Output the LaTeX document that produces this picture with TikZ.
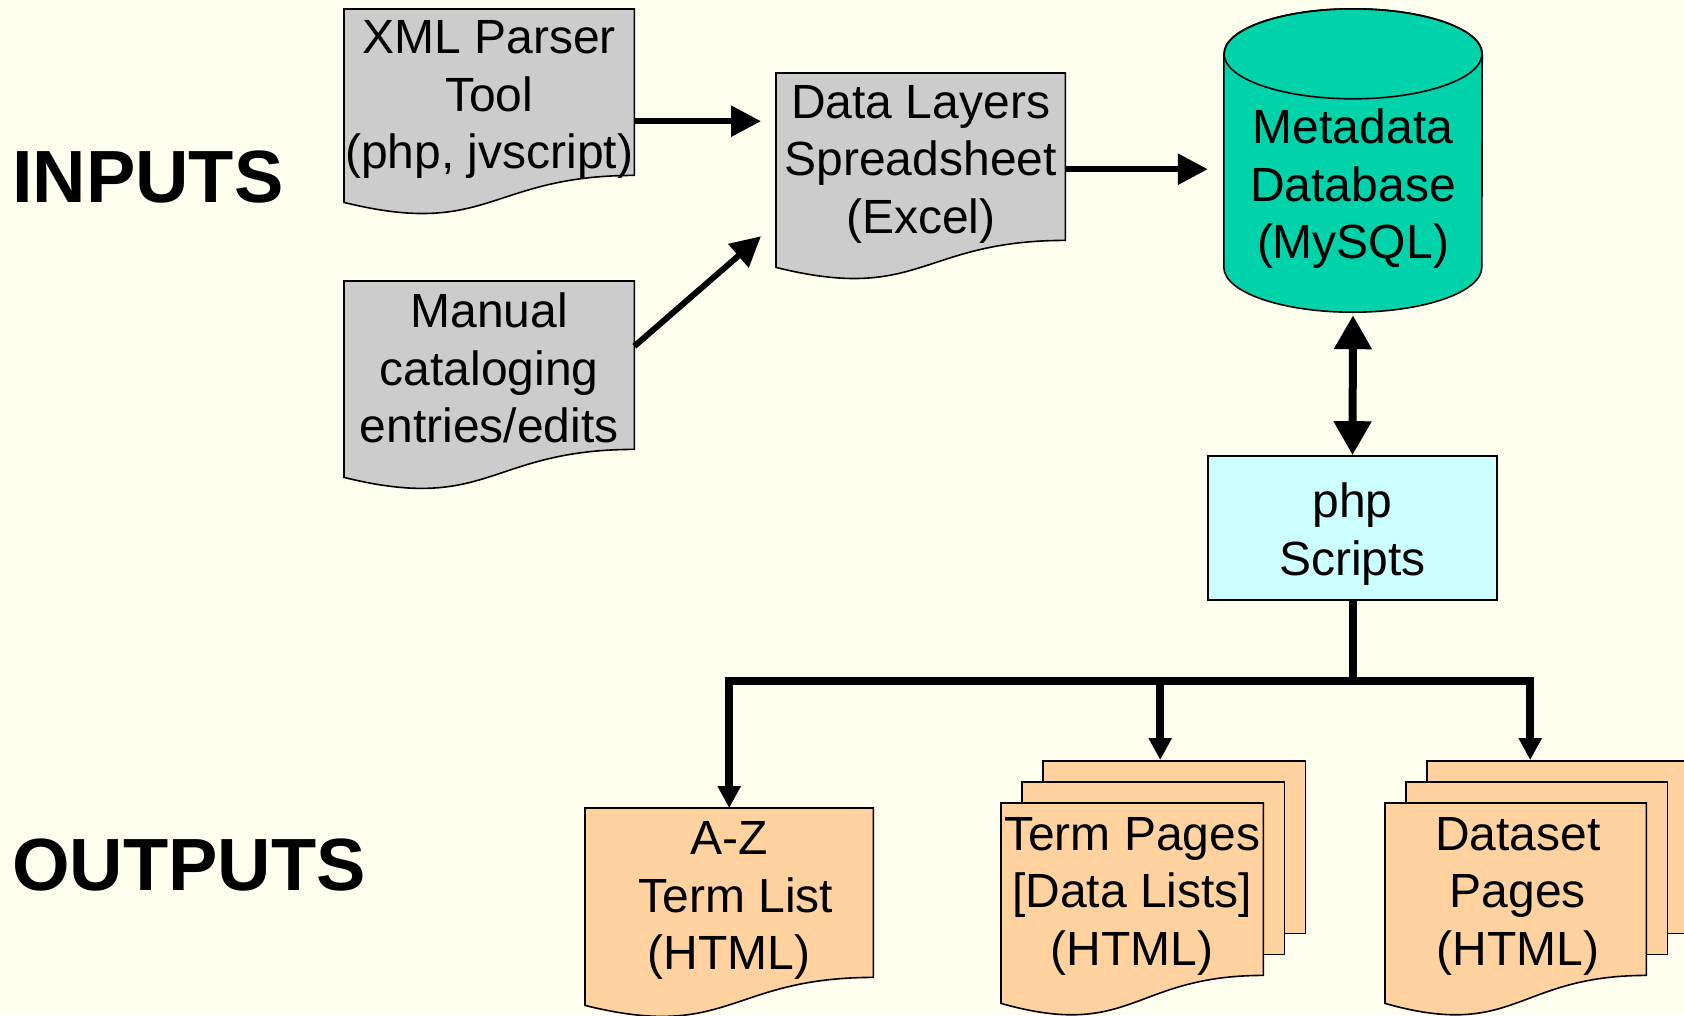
\documentclass[tikz,border=0pt]{standalone}
\usepackage{fontspec}
\setmainfont{Liberation Sans}
\usetikzlibrary{arrows.meta,backgrounds,calc}
\definecolor{bgc}{RGB}{255,255,240}
\definecolor{grayc}{RGB}{204,204,204}
\definecolor{tealc}{RGB}{0,210,170}
\definecolor{cyanc}{RGB}{204,255,255}
\definecolor{peachc}{RGB}{255,210,160}
\newcommand{\docshape}[4]{%
  \filldraw[#1] (#2.north west) -- (#2.north east) -- (#2.south east)
    .. controls (#2.south) and ([yshift=-#3pt]#2.south) .. ([yshift=-#4pt]#2.south west) -- cycle;}
\newcommand{\pagesbehind}[2]{%
  \filldraw[#1] ([xshift=42pt,yshift=42pt]#2.north west) rectangle ([xshift=42pt,yshift=42pt]#2.south east);
  \filldraw[#1] ([xshift=21pt,yshift=21pt]#2.north west) rectangle ([xshift=21pt,yshift=21pt]#2.south east);}
\begin{document}
\begin{tikzpicture}[x=1pt,y=-1pt,
  txt/.style={font=\fontsize{48}{57.5}\selectfont, align=center, inner sep=0pt},
  box/.style={inner sep=0pt, anchor=north west},
  head/.style={font=\fontsize{74}{80}\selectfont\bfseries, inner sep=0pt, anchor=west},
  outl/.style={draw=black, line width=1.6pt},
  grayshape/.style={outl, fill=grayc},
  peachshape/.style={outl, fill=peachc},
  arrH/.style={line width=6pt, -{Triangle[length=30pt,width=30pt]}},
  dbl/.style={line width=8pt, {Triangle[length=34pt,width=36pt]}-{Triangle[length=34pt,width=36pt]}},
  busarr/.style={line width=8pt, line join=miter, -{Triangle[length=22pt,width=22pt]}}
]
\useasboundingbox (0,0) rectangle (1684,1015);

% labels
\node[head] (inputs) at (12,177) {INPUTS};
\node[head] (outputs) at (12,865) {OUTPUTS};

% input documents
\node[box, minimum width=290pt, minimum height=166pt,
  label={[txt, yshift=-7.5pt]center:{XML Parser\\Tool\\(php, jvscript)}}] (xml) at (344,9) {};
\node[box, minimum width=290pt, minimum height=168pt,
  label={[txt, yshift=-3pt]center:{Manual\\cataloging\\entries/edits}}] (man) at (344,281) {};
\node[box, minimum width=289pt, minimum height=167pt,
  label={[txt, yshift=-7.5pt]center:{Data Layers\\Spreadsheet\\(Excel)}}] (dl) at (776,73) {};

% database
\node[inner sep=0pt, minimum width=258pt, minimum height=258pt,
  label={[txt, yshift=-6pt]center:{Metadata\\Database\\(MySQL)}}] (db) at (1353,183) {};

% php scripts
\node[outl, fill=cyanc, inner sep=0pt, minimum width=289pt, minimum height=144pt,
  label={[txt, yshift=-6pt]center:{php\\Scripts}}] (php) at (1352.5,528) {};

% outputs
\node[box, minimum width=288pt, minimum height=169pt,
  label={[txt, yshift=-8pt]center:{A-Z\\\hspace*{13pt}Term List\\(HTML)}}] (az) at (585,808) {};
\node[box, minimum width=262pt, minimum height=172pt,
  label={[txt, yshift=-7pt]center:{Term Pages\\{[Data Lists]}\\(HTML)}}] (term) at (1001,803) {};
\node[box, minimum width=261pt, minimum height=172pt,
  label={[txt, yshift=-7pt, xshift=2pt]center:{Dataset\\Pages\\(HTML)}}] (ds) at (1385,803) {};

\begin{pgfonlayer}{background}
  \fill[bgc] (0,0) rectangle (1684,1015);
  \docshape{grayshape}{xml}{63}{27}
  \docshape{grayshape}{man}{64}{28}
  \docshape{grayshape}{dl}{63}{27}
  \docshape{peachshape}{az}{64}{28}
  \pagesbehind{peachshape}{term}
  \docshape{peachshape}{term}{65}{28}
  \pagesbehind{peachshape}{ds}
  \docshape{peachshape}{ds}{65}{28}
  % cylinder
  \filldraw[outl, fill=tealc] (db.north west) -- ([yshift=45pt]db.south west)
    arc[start angle=180, end angle=360, x radius=129pt, y radius=45pt]
    -- (db.north east)
    arc[start angle=0, end angle=180, x radius=129pt, y radius=45pt] -- cycle;
  \draw[outl] (db.north) ellipse[x radius=129pt, y radius=45pt];
\end{pgfonlayer}

% connectors
\coordinate (a1) at ([yshift=-29pt]xml.east);
\draw[arrH, shorten >=15pt] (a1) -- (a1 -| dl.west);
\draw[arrH] ([yshift=19pt]man.east) -- ([xshift=-15pt,yshift=-79.5pt]dl.west);
\coordinate (a3) at ([yshift=-12.5pt]dl.east);
\draw[arrH, shorten >=16pt] (a3) -- (a3 -| db.west);
\draw[dbl, shorten <=3pt] (db.south) -- (php.north);

\coordinate (bj) at ([yshift=-80pt]php.south);
\coordinate (tt) at ([xshift=28pt,yshift=43pt]term.north);
\coordinate (dt) at ([xshift=14.5pt,yshift=43pt]ds.north);
\draw[busarr] (php.south) -- (bj) -| (az.north);
\draw[busarr] (bj) -| (dt);
\draw[busarr] (tt |- bj) -- (tt);
\end{tikzpicture}
\end{document}
